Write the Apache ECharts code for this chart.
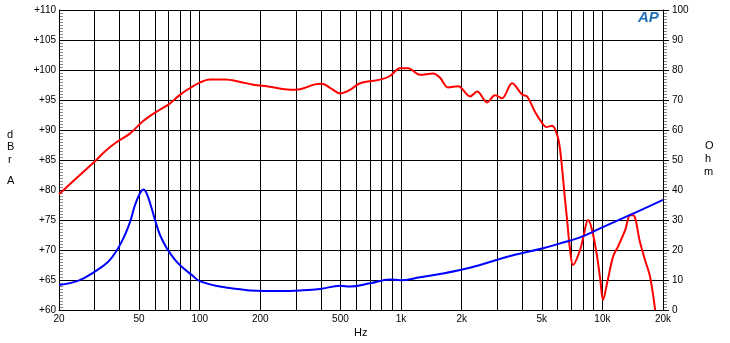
<!DOCTYPE html>
<html>
<head>
<meta charset="utf-8">
<script src="https://cdn.jsdelivr.net/npm/echarts@6/dist/echarts.min.js"></script>
<style>html,body{margin:0;padding:0;background:#fff}#c{width:730px;height:343px}</style>
</head>
<body>
<div id="c"></div>
<script>
// Frequency response (dBrA, left axis)
const responseData = [[20,79.3],[25,82.3],[30,84.7],[34,86.5],[38.7,88.0],[45,89.4],[52.4,91.5],[61.4,93.1],[71,94.4],[80,95.9],[89.5,97.0],[100,97.9],[112,98.4],[134,98.4],[159,98.0],[182,97.6],[223,97.2],[281,96.7],[315,96.8],[374,97.6],[405,97.7],[450,96.9],[498,96.1],[558,96.7],[626,97.8],[786,98.4],[881,99.0],[989,100.3],[1084,100.3],[1242,99.2],[1442,99.4],[1562,98.7],[1712,97.1],[1920,97.3],[2202,95.6],[2386,96.4],[2675,94.6],[2931,95.8],[3176,95.3],[3560,97.8],[3993,95.9],[4226,95.6],[4630,93.0],[5014,91.2],[5250,90.5],[5624,90.7],[5956,89.2],[6166,86.7],[6527,78.3],[6680,75],[6913,70],[7152,67.5],[7748,70],[8020,72],[8492,75],[8892,73.3],[9414,68.9],[9742,65.3],[10082,61.7],[10556,64.5],[11300,68.9],[11968,70.6],[12972,73.3],[13736,75.8],[14214,75.8],[15396,71.2],[16300,68.3],[17260,65.5],[18280,60]];
// Impedance (Ohm, right axis)
const impedanceData = [[20,8.3],[25,9.8],[30,12.7],[35,16],[38.7,19.8],[42.5,25],[45.1,29.4],[47.7,35],[50.5,38.9],[52.5,40.2],[54.5,38.9],[57.7,33.9],[60,30],[63.5,25],[68.6,20.6],[75.4,16.7],[81.4,14.4],[91.2,11.7],[100,9.6],[126,7.8],[159,6.9],[178,6.5],[250,6.3],[315,6.5],[396,7.0],[498,8.1],[558,7.8],[701,8.9],[881,10.2],[989,9.9],[1242,10.9],[1562,12],[1964,13.3],[2468,15],[3480,18],[5072,20.6],[6166,22.2],[7748,24.2],[9742,27.2],[13736,31.7],[20000,36.7]];
// Vertical grid lines
const gridFreqs = [20,30,40,50,60,70,80,90,100,200,300,400,500,600,700,800,900,1000,2000,3000,4000,5000,6000,7000,8000,9000,10000,20000];
// Labelled frequency ticks
const tickFreqs = [20,50,100,200,500,1000,2000,5000,10000,20000];
const tickLabels = ['20','50','100','200','500','1k','2k','5k','10k','20k'];

const FONT = 'Liberation Sans';
const chart = echarts.init(document.getElementById('c'), null, {renderer:'canvas'});

const markData = gridFreqs.map(f => {
  const i = tickFreqs.indexOf(f);
  return {
    xAxis: f,
    label: i >= 0 ? {show:true, position:'start', formatter: tickLabels[i], distance: 4,
      color:'#000', fontFamily: FONT, fontSize: 10} : {show:false}
  };
});

chart.setOption({
  animation: false,
  backgroundColor: '#fff',
  grid: {left: 59, top: 10, right: 67, bottom: 33, containLabel: false},
  xAxis: {
    type: 'log', logBase: 10, min: 20, max: 20000,
    axisLabel: {show: false}, axisTick: {show: false},
    splitLine: {show: false}, minorSplitLine: {show:false},
    axisLine: {show: true, lineStyle: {color: '#000', width: 1}}
  },
  yAxis: [
    {
      type: 'value', min: 60, max: 110, interval: 5, position: 'left',
      axisLine: {show: true, lineStyle: {color: '#000', width: 1}},
      axisTick: {show: true, inside: true, length: 5, lineStyle: {color: '#000'}},
      minorTick: {show: true, splitNumber: 10, length: 4, lineStyle: {color: '#888'}},
      axisLabel: {formatter: v => '+' + v, color: '#000', fontFamily: FONT, fontSize: 10, margin: 3},
      splitLine: {show: true, lineStyle: {color: '#000', width: 1}}
    },
    {
      type: 'value', min: 0, max: 100, interval: 10, position: 'right',
      axisLine: {show: true, lineStyle: {color: '#000', width: 1}},
      axisTick: {show: true, inside: false, length: 6, lineStyle: {color: '#000'}},
      minorTick: {show: true, splitNumber: 10, length: 4, lineStyle: {color: '#888'}},
      axisLabel: {color: '#000', fontFamily: FONT, fontSize: 10, margin: 9},
      splitLine: {show: false}
    }
  ],
  series: [
    {
      type: 'line', data: [[20, 60]], showSymbol: false, symbol: 'none',
      lineStyle: {opacity: 0}, z: 1, silent: true,
      markLine: {silent: true, symbol: 'none', animation: false,
        lineStyle: {color: '#000', width: 1, type: 'solid'}, data: markData}
    },
    {
      name: 'Response', type: 'line', yAxisIndex: 0, data: responseData,
      showSymbol: false, symbol: 'none', smooth: 0.35, z: 5,
      lineStyle: {color: '#ff0000', width: 2}
    },
    {
      name: 'Impedance', type: 'line', yAxisIndex: 1, data: impedanceData,
      showSymbol: false, symbol: 'none', smooth: 0.4, z: 6,
      lineStyle: {color: '#0000ff', width: 2}
    }
  ],
  graphic: [
    {type:'text', left: 7, top: 129, style:{text:'d', font:'11px "Liberation Sans"', fill:'#000'}},
    {type:'text', left: 7, top: 141, style:{text:'B', font:'11px "Liberation Sans"', fill:'#000'}},
    {type:'text', left: 8, top: 154, style:{text:'r', font:'11px "Liberation Sans"', fill:'#000'}},
    {type:'text', left: 7, top: 175, style:{text:'A', font:'11px "Liberation Sans"', fill:'#000'}},
    {type:'text', left: 705, top: 140, style:{text:'O', font:'11px "Liberation Sans"', fill:'#000'}},
    {type:'text', left: 705, top: 153, style:{text:'h', font:'11px "Liberation Sans"', fill:'#000'}},
    {type:'text', left: 704, top: 166, style:{text:'m', font:'11px "Liberation Sans"', fill:'#000'}},
    {type:'text', left: 354, top: 327, style:{text:'Hz', font:'11px "Liberation Sans"', fill:'#000'}},
    {type:'text', left: 638, top: 10, style:{text:'AP', font:'italic bold 15px "Liberation Sans"', fill:'#1f6fb5'}}
  ]
});
</script>
</body>
</html>
